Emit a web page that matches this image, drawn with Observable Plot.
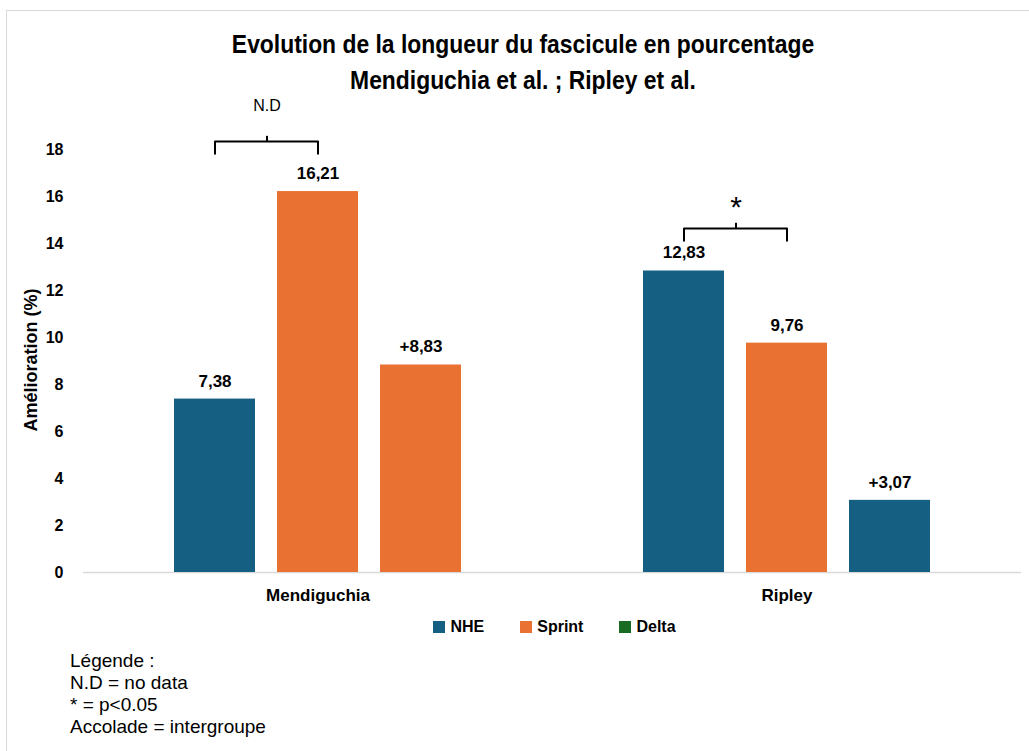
<!DOCTYPE html>
<html>
<head>
<meta charset="utf-8">
<script src="https://cdn.jsdelivr.net/npm/d3@7"></script>
<script src="https://cdn.jsdelivr.net/npm/@observablehq/plot@0.6"></script>
<style>
  html, body { margin: 0; padding: 0; background: #fff; }
  #page { position: relative; width: 1029px; height: 751px; overflow: hidden; background: #fff; font-family: "Liberation Sans", Arial, sans-serif; }
  #frame { position: absolute; left: 6px; top: 10px; width: 1100px; height: 800px; border: 1.5px solid #d9d9d9; box-sizing: border-box; }
  #title { position: absolute; left: 0; top: 26px; width: 1046px; text-align: center; font-family: "Liberation Sans", Arial, sans-serif; font-weight: bold; font-size: 26px; line-height: 36px; color: #000; }
  #title div { transform: scaleX(0.88); transform-origin: center; }
  #chart { position: absolute; left: 0; top: 0; }
  #ylabel { position: absolute; left: 31px; top: 360px; transform: translate(-50%, -50%) rotate(-90deg); font-weight: bold; font-size: 18px; white-space: nowrap; color: #000; }
  #legend { position: absolute; top: 618px; left: 0; width: 1109px; display: flex; justify-content: center; gap: 36px; font-weight: bold; font-size: 16px; color: #000; }
  #legend .item { display: flex; align-items: center; gap: 5px; }
  #legend .sw { width: 12px; height: 12px; display: inline-block; }
  #caption { position: absolute; left: 70px; top: 650px; font-size: 19px; line-height: 22px; color: #000; }
</style>
</head>
<body>
<div id="page">
  <div id="frame"></div>
  <div id="title"></div>
  <div id="chart"></div>
  <div id="ylabel"></div>
  <div id="legend"></div>
  <div id="caption"></div>
</div>
<script>
// ---- Data ----
const groups = ["Mendiguchia", "Ripley"];
const series = ["NHE", "Sprint", "Delta"];
const nheValues = [7.38, 12.83];
const sprintValues = [16.21, 9.76];
const deltaValues = [8.83, 3.07];
const yTicks = [0, 2, 4, 6, 8, 10, 12, 14, 16, 18];
const bracketGroups = ["Mendiguchia", "Ripley"];
const bracketLevels = [18.34, 14.64];
const bracketMarks = ["N.D", "*"];
const titleLines = ["Evolution de la longueur du fascicule en pourcentage", "Mendiguchia et al. ; Ripley et al."];
const yLabel = "Amélioration (%)";
const captionLines = ["Légende :", "N.D = no data", "* = p<0.05", "Accolade = intergroupe"];

const seriesColors = { NHE: "#156082", Sprint: "#E97132", Delta: "#196B24" };

// ---- Build rows ----
const fmt = v => v.toFixed(2).replace(".", ",");
const rows = [];
groups.forEach((g, i) => {
  const vals = { NHE: nheValues[i], Sprint: sprintValues[i], Delta: deltaValues[i] };
  const best = vals.NHE >= vals.Sprint ? "NHE" : "Sprint";
  series.forEach(s => {
    rows.push({
      group: g,
      series: s,
      value: vals[s],
      fill: s === "Delta" ? seriesColors[best] : seriesColors[s],
      label: (s === "Delta" ? "+" : "") + fmt(vals[s])
    });
  });
});

const brackets = bracketGroups.map((g, i) => ({ group: g, level: bracketLevels[i], mark: bracketMarks[i] }));
const bracketLines = [];
brackets.forEach((b, i) => {
  const drop = 0.52;
  bracketLines.push({ id: i, group: b.group, s: "NHE", y: b.level - drop });
  bracketLines.push({ id: i, group: b.group, s: "NHE", y: b.level });
  bracketLines.push({ id: i, group: b.group, s: "Sprint", y: b.level });
  bracketLines.push({ id: i, group: b.group, s: "Sprint", y: b.level - drop });
});

// ---- Layout ----
const W = 1029, H = 620;
const mL = 82, mR = 8, mT = 149, mB = 48;
const pIn = 0.21, pOut = 0.862;
const facetWidth = (W - mL - mR) / groups.length;
const innerStep = facetWidth / (series.length - pIn + 2 * pOut);
const half = innerStep / 2;

const chart = Plot.plot({
  width: W,
  height: H,
  marginTop: mT,
  marginBottom: mB,
  marginLeft: mL,
  marginRight: mR,
  style: { fontFamily: "Liberation Sans, Arial, sans-serif", color: "#000", background: "transparent" },
  fx: { domain: groups, padding: 0 },
  x: { domain: series, paddingInner: pIn, paddingOuter: pOut, axis: null },
  y: { domain: [0, 18] },
  color: { type: "identity" },
  marks: [
    Plot.axisY({ ticks: yTicks, tickSize: 0, tickPadding: 20, fontSize: 16, fontWeight: "bold", label: null, tickFormat: d => String(d) }),
    Plot.axisFx({ anchor: "bottom", tickSize: 0, tickPadding: 16, fontSize: 17, fontWeight: "bold", label: null }),
    Plot.ruleY([0], { stroke: "#d9d9d9", strokeWidth: 1.5 }),
    Plot.barY(rows, { fx: "group", x: "series", y: "value", fill: "fill" }),
    Plot.text(rows, { fx: "group", x: "series", y: "value", text: "label", dy: -18, fontSize: 17, fontWeight: "bold", fill: "#000" }),
    Plot.line(bracketLines, { fx: "group", x: "s", y: "y", z: "id", stroke: "#000", strokeWidth: 2, strokeLinejoin: "round", strokeLinecap: "round" }),
    Plot.ruleX(brackets, { fx: "group", x: () => "NHE", y1: "level", y2: d => d.level + 0.22, dx: half, stroke: "#000", strokeWidth: 2 }),
    Plot.text(brackets.filter(b => b.mark !== "*"), { fx: "group", x: () => "NHE", y: d => d.level + 1.5, dx: half, text: "mark", fontSize: 16, fill: "#000" }),
    Plot.text(brackets.filter(b => b.mark === "*"), { fx: "group", x: () => "NHE", y: d => d.level + 0.9, dx: half, text: "mark", fontSize: 30, fill: "#000" })
  ]
});
document.getElementById("chart").appendChild(chart);

document.getElementById("title").innerHTML = titleLines.map(t => `<div>${t}</div>`).join("");
document.getElementById("ylabel").textContent = yLabel;
document.getElementById("legend").innerHTML = series.map(s =>
  `<span class="item"><span class="sw" style="background:${seriesColors[s]}"></span>${s}</span>`).join("");
document.getElementById("caption").innerHTML = captionLines.map(t => `<div>${t.replace(/</g, "&lt;")}</div>`).join("");
</script>
</body>
</html>
